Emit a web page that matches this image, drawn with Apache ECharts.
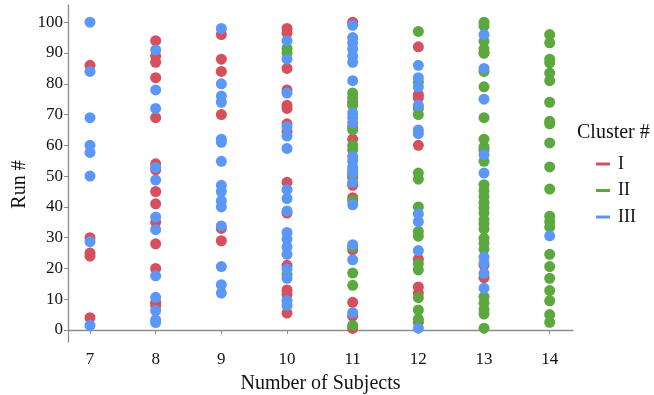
<!DOCTYPE html>
<html>
<head>
<meta charset="utf-8">
<script src="https://cdn.jsdelivr.net/npm/echarts@6/dist/echarts.min.js"></script>
<style>html,body{margin:0;padding:0;background:#fff}#c{width:654px;height:395px}</style>
</head>
<body>
<div id="c"></div>
<script>
const xTicks = [7, 8, 9, 10, 11, 12, 13, 14];
const yTicks = [0, 10, 20, 30, 40, 50, 60, 70, 80, 90, 100];
const clusterNames = ['I', 'II', 'III'];
const clusterColors = ['#d64f5c', '#5ba83e', '#5b97f7'];

// Cluster I (red): [number of subjects, run #]
const clusterI = [
  [7,86],[7,30],[7,25],[7,24],[7,4],
  [8,94],[8,89],[8,87],[8,82],[8,69],[8,54],[8,52],[8,45],[8,41],[8,35],[8,28],[8,20],[8,9],[8,8],
  [9,96],[9,88],[9,84],[9,70],[9,33],[9,29],
  [10,98],[10,96.5],[10,85],[10,78],[10,73],[10,72],[10,67],[10,64.5],[10,48],[10,38],[10,21],[10,13],[10,11.5],[10,5.5],
  [11,100],[11,74],[11,66],[11,62],[11,49.5],[11,47],[11,43],[11,26],[11,9],[11,4.5],[11,0.5],
  [12,92],[12,76.5],[12,75.5],[12,60],[12,23],[12,14],[12,12],[12,2.5],
  [13,90],[13,58.5],[13,21],[13,17]
];
// Cluster II (green)
const clusterII = [
  [10,91.5],[10,90],[10,18],
  [11,77],[11,75.5],[11,73],[11,65],[11,60],[11,58.5],[11,52],[11,50.5],[11,42],[11,27],[11,18.5],[11,14.5],[11,1.5],
  [12,97],[12,80.5],[12,72],[12,70],[12,51],[12,49],[12,40],[12,32],[12,30.5],[12,21.5],[12,19.5],[12,10.5],[12,6.5],[12,3.5],
  [13,100],[13,98.7],[13,93.8],[13,91.3],[13,90],[13,84],[13,79],[13,69],[13,62],[13,59.5],[13,54.8],[13,47.2],[13,45.3],[13,43.4],[13,41.4],[13,39.7],[13,38],[13,35.8],[13,34.5],[13,32.8],[13,29.8],[13,28.2],[13,26.3],[13,10.8],[13,8.7],[13,6.7],[13,5.2],[13,0.6],
  [14,96],[14,93.3],[14,88],[14,86.8],[14,83.5],[14,81],[14,74],[14,67.8],[14,67],[14,60.8],[14,53],[14,45.8],[14,37],[14,35.2],[14,33.4],[14,24.6],[14,20.6],[14,16.8],[14,12.8],[14,9.5],[14,5],[14,2.5]
];
// Cluster III (blue)
const clusterIII = [
  [7,100],[7,84],[7,69],[7,60],[7,57.7],[7,50],[7,28.7],[7,1.5],
  [8,91],[8,78],[8,72],[8,52.8],[8,48.7],[8,36.7],[8,32.6],[8,17.6],[8,10.6],[8,6.3],[8,3.3],[8,2.4],
  [9,98],[9,80],[9,76],[9,74],[9,62],[9,61],[9,54.8],[9,47],[9,45],[9,42],[9,40],[9,33.8],[9,20.6],[9,14.7],[9,12],
  [10,94],[10,88],[10,77],[10,66],[10,63],[10,59],[10,45.6],[10,42.7],[10,38.7],[10,31.7],[10,29.5],[10,27],[10,24.6],[10,19.8],[10,16.8],[10,9.5],[10,8],
  [11,99],[11,95],[11,93.3],[11,91.3],[11,89],[11,87],[11,81],[11,70.5],[11,69],[11,67.3],[11,56.4],[11,54.8],[11,53],[11,51.2],[11,48],[11,40.7],[11,27.7],[11,22.8],[11,5.6],
  [12,86],[12,82],[12,79],[12,73],[12,65],[12,63.8],[12,37.7],[12,35.2],[12,25.8],[12,0.6],
  [13,96],[13,85],[13,75],[13,57],[13,51],[13,23.7],[13,21.7],[13,18.4],[13,13.6],
  [14,30.6]
];
const clusterData = [clusterI, clusterII, clusterIII];

const FONT = 'Liberation Serif';
const axisGray = '#8c8c8c';
const chart = echarts.init(document.getElementById('c'));
chart.setOption({
  animation: false,
  grid: { left: 68, right: 81, top: 5, bottom: 53, outerBoundsMode: 'none', containLabel: false },
  xAxis: {
    type: 'value', min: 6.665, max: 14.355,
    name: 'Number of Subjects', nameLocation: 'middle', nameGap: 32,
    nameTextStyle: { fontFamily: FONT, fontSize: 20, color: '#111' },
    axisLine: { show: true, lineStyle: { color: axisGray, width: 1.3 } },
    axisTick: { show: true, length: 4, customValues: xTicks, lineStyle: { color: axisGray } },
    axisLabel: { customValues: xTicks, margin: 9, fontFamily: FONT, fontSize: 17, color: '#111' },
    splitLine: { show: false }
  },
  yAxis: {
    type: 'value', min: -3.9, max: 105.6,
    axisLine: { show: true, lineStyle: { color: axisGray, width: 1.3 } },
    axisTick: { show: true, length: 4, customValues: yTicks, lineStyle: { color: axisGray } },
    axisLabel: { customValues: yTicks, margin: 5, fontFamily: FONT, fontSize: 17, color: '#111' },
    splitLine: { show: false }
  },
  legend: {
    orient: 'vertical', left: 591, top: 150,
    icon: 'rect', itemWidth: 14, itemHeight: 3, itemGap: 8.5,
    textStyle: { fontFamily: FONT, fontSize: 18, lineHeight: 18, color: '#111', padding: [0, 0, 0, 3] },
    data: clusterNames
  },
  graphic: [
    { type: 'text', style: { x: 577, y: 133, text: 'Cluster #', fontFamily: FONT, fontSize: 20, fill: '#111', verticalAlign: 'middle', align: 'left' } },
    { type: 'text', x: 20, y: 184.5, rotation: Math.PI / 2, style: { x: 0, y: 0, text: 'Run #', fontFamily: FONT, fontSize: 20, fill: '#111', verticalAlign: 'middle', align: 'center' } }
  ],
  series: clusterNames.map((n, i) => ({
    name: n, type: 'scatter', data: clusterData[i], symbolSize: 11,
    itemStyle: { color: clusterColors[i], opacity: 1 }, z: 2 + i
  }))
});
</script>
</body>
</html>
